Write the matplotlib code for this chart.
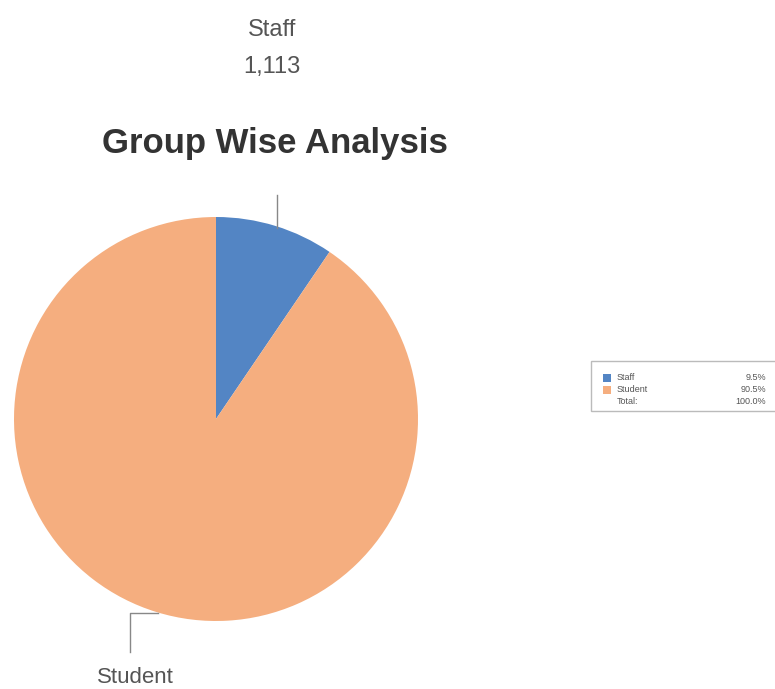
import matplotlib.pyplot as plt
from matplotlib.patches import Rectangle

groups = ["Staff", "Student"]
counts = [1113, 10603]
shares = ["9.5%", "90.5%"]
total_label = "100.0%"
colors = ["#5385c4", "#f5ae7f"]

fig = plt.figure(figsize=(7.75, 6.89), dpi=100)
W, H = 775.0, 689.0

# pie axes: centre ~ (216, 419) px, radius ~202 px
ax = fig.add_axes([14 / W, 1 - 621 / H, 404 / W, 404 / H])
ax.pie(counts, colors=colors, startangle=90, counterclock=False, radius=1.0)
ax.set_xlim(-1, 1)
ax.set_ylim(-1, 1)
ax.set_aspect("equal")
ax.axis("off")

grey = "#555555"
font = "Liberation Sans"
fig.text(275 / W, 1 - 153 / H, "Group Wise Analysis", ha="center", va="baseline",
         fontsize=25, fontweight="bold", color="#333333", family=font)
fig.text(272 / W, 1 - 36 / H, groups[0], ha="center", va="baseline",
         fontsize=17, color=grey, family=font)
fig.text(272 / W, 1 - 73 / H, f"{counts[0]:,}", ha="center", va="baseline",
         fontsize=17, color=grey, family=font)
fig.text(135 / W, 1 - 683 / H, groups[1], ha="center", va="baseline",
         fontsize=16, color=grey, family=font)

# leader lines
fig.add_artist(plt.Line2D([277 / W, 277 / W], [1 - 195 / H, 1 - 228 / H],
                          color="#888888", lw=1))
fig.add_artist(plt.Line2D([130 / W, 130 / W, 158 / W],
                          [1 - 652 / H, 1 - 613 / H, 1 - 613 / H],
                          color="#888888", lw=1))

# legend box
fig.add_artist(Rectangle((591 / W, 1 - 411 / H), 200 / W, 50 / H,
                         transform=fig.transFigure, facecolor="white",
                         edgecolor="#bbbbbb", lw=1))
rows_y = [378, 390, 401]
for i, g in enumerate(groups):
    y = rows_y[i]
    fig.add_artist(Rectangle((603 / W, 1 - (y + 4) / H), 8 / W, 8 / H,
                             transform=fig.transFigure, facecolor=colors[i],
                             edgecolor="none"))
    fig.text(617 / W, 1 - y / H, g, ha="left", va="center", fontsize=6.5,
             color=grey, family=font)
    fig.text(766 / W, 1 - y / H, shares[i], ha="right", va="center", fontsize=6.5,
             color=grey, family=font)
fig.text(617 / W, 1 - rows_y[2] / H, "Total:", ha="left", va="center", fontsize=6.5,
         color=grey, family=font)
fig.text(766 / W, 1 - rows_y[2] / H, total_label, ha="right", va="center", fontsize=6.5,
         color=grey, family=font)

fig.savefig("out.png", dpi=100)
